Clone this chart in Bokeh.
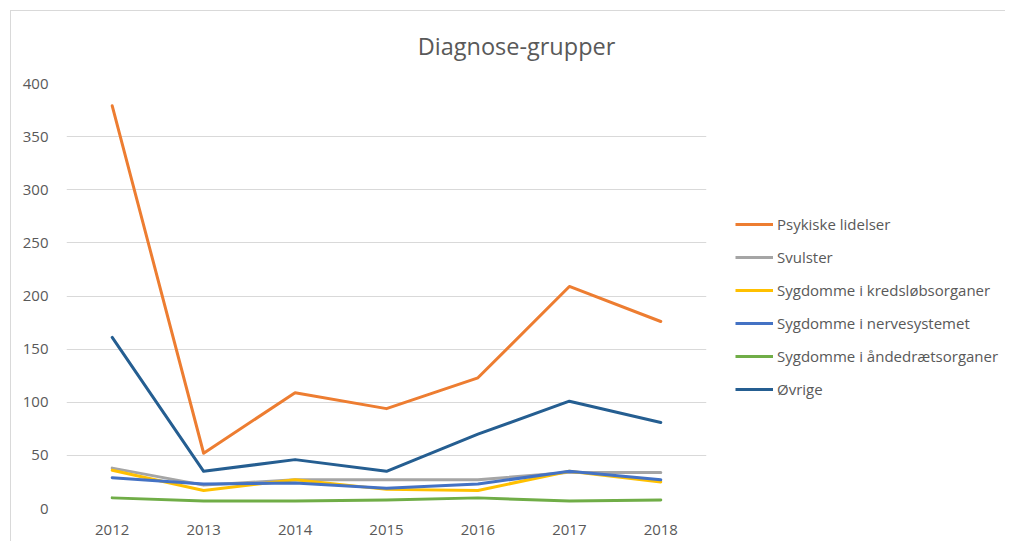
from bokeh.plotting import figure
from bokeh.models import Range1d, Legend, LegendItem, FactorRange
from bokeh.layouts import row, column
from bokeh.core.properties import value
from bokeh.embed import file_html
from bokeh.resources import INLINE

years = ["2012", "2013", "2014", "2015", "2016", "2017", "2018"]
psykiske = [379, 52, 109, 94, 123, 209, 176]
svulster = [38, 22, 27, 27, 27, 34, 34]
kredslob = [36, 17, 27, 18, 17, 35, 25]
nerve = [29, 23, 24, 19, 23, 35, 27]
aandedraet = [10, 7, 7, 8, 10, 7, 8]
ovrige = [161, 35, 46, 35, 70, 101, 81]
title_text = "Diagnose-grupper"

series = [
    ("Psykiske lidelser", psykiske, "#ED7D31"),
    ("Svulster", svulster, "#A5A5A5"),
    ("Sygdomme i kredsløbsorganer", kredslob, "#FFC000"),
    ("Sygdomme i nervesystemet", nerve, "#4472C4"),
    ("Sygdomme i åndedrætsorganer", aandedraet, "#70AD47"),
    ("Øvrige", ovrige, "#255E91"),
]

FONT = "Open Sans"
GRAY = "#595959"

def bare(fig):
    fig.axis.visible = False
    fig.grid.visible = False
    fig.outline_line_color = None

# title band
pt = figure(width=994, height=62, x_range=Range1d(0, 994), y_range=Range1d(0, 62),
            output_backend="svg", toolbar_location=None,
            min_border=0, min_border_left=0, min_border_right=0, min_border_top=0, min_border_bottom=0)
bare(pt)
pt.text(x=[505], y=[28], text=[title_text], text_align="center", text_baseline="middle",
        text_font=value(FONT), text_font_size="23.5px", text_color=GRAY)

# main chart
p = figure(width=709, height=468, x_range=FactorRange(*years), y_range=Range1d(0, 400),
           output_backend="svg", toolbar_location=None,
           min_border_left=55, min_border_right=14, min_border_top=10, min_border_bottom=33)
p.outline_line_color = None
p.x_range.range_padding = 0
p.x_range.factor_padding = 0

for name, vals, col in series:
    p.line(years, vals, line_color=col, line_width=3, line_join="round", line_cap="round")

p.xgrid.grid_line_color = None
p.ygrid.grid_line_color = "#D9D9D9"
p.ygrid.grid_line_width = 1
p.yaxis.ticker = [0, 50, 100, 150, 200, 250, 300, 350, 400]
for ax in (p.xaxis[0], p.yaxis[0]):
    ax.axis_line_color = None
    ax.major_tick_line_color = None
    ax.minor_tick_line_color = None
    ax.major_label_text_font = FONT
    ax.major_label_text_font_size = "15px"
    ax.major_label_text_color = GRAY
p.yaxis.major_label_standoff = 12
p.xaxis.major_label_standoff = 10

# legend panel (a separate, axis-less figure so the legend is not clipped)
p2 = figure(width=285, height=468, x_range=Range1d(0, 1), y_range=Range1d(0, 1),
            output_backend="svg", toolbar_location=None,
            min_border=0, min_border_left=0, min_border_right=0, min_border_top=0, min_border_bottom=0)
bare(p2)
items = []
for name, vals, col in series:
    # off-range proxy line: only its legend glyph is seen
    r = p2.line(x=[-5, -4], y=[-5, -5], line_color=col, line_width=3)
    items.append(LegendItem(label=name, renderers=[r]))

legend = Legend(items=items, location=(15, 109), orientation="vertical",
                glyph_width=38, glyph_height=20, label_height=20, spacing=13,
                label_standoff=4, padding=0, margin=0,
                border_line_color=None, background_fill_alpha=0,
                label_text_font=FONT, label_text_font_size="15px", label_text_color=GRAY)
p2.add_layout(legend, "center")

layout = column(pt, row(p, p2))
layout.styles = {"border-left": "1px solid #D9D9D9", "border-top": "1px solid #D9D9D9",
                 "margin-left": "10px", "margin-top": "10px"}

open("out.html", "w").write(file_html(layout, INLINE))
